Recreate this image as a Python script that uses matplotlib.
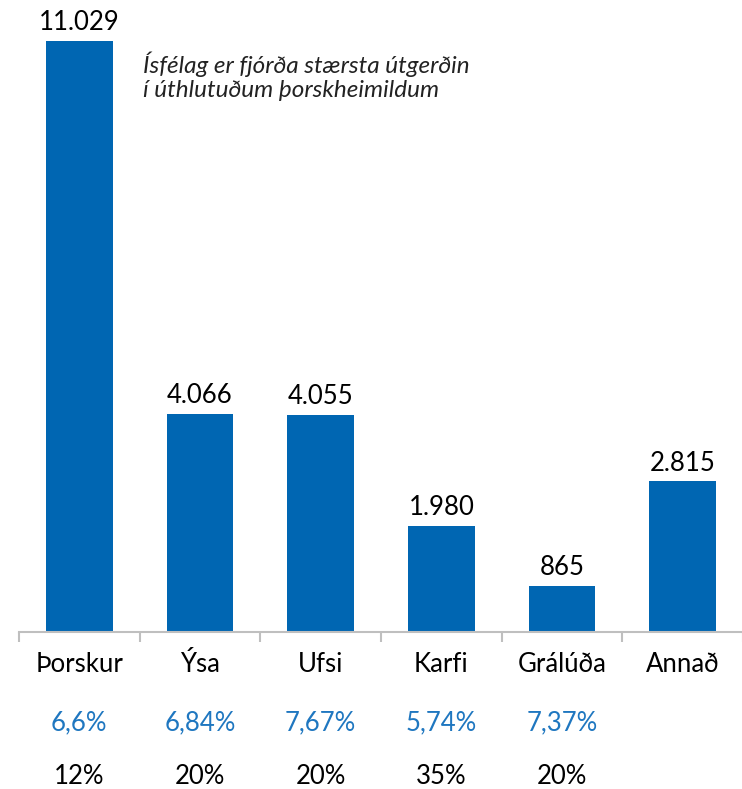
import matplotlib.pyplot as plt
import matplotlib.transforms as mtransforms

plt.rcParams['font.family'] = ['Lato', 'DejaVu Sans']

categories = ['Þorskur', 'Ýsa', 'Ufsi', 'Karfi', 'Grálúða', 'Annað']
values = [11029, 4066, 4055, 1980, 865, 2815]
value_labels = ['11.029', '4.066', '4.055', '1.980', '865', '2.815']
share_blue = ['6,6%', '6,84%', '7,67%', '5,74%', '7,37%', '']
share_black = ['12%', '20%', '20%', '35%', '20%', '']

bar_color = '#0066b2'
blue_text = '#1f77c0'
axis_gray = '#bfbfbf'

fig = plt.figure(figsize=(7.42, 7.89), dpi=100)
ax = fig.add_axes([19 / 742, (789 - 632) / 789, 724 / 742, 632 / 789])

x = list(range(len(categories)))
ax.bar(x, values, width=0.55, color=bar_color, zorder=2)
ax.set_xlim(-0.5, len(categories) - 0.5)
ax.set_ylim(0, 11790)

for xi, v, lab in zip(x, values, value_labels):
    ax.annotate(lab, (xi, v), xytext=(0, 4), textcoords='offset points',
                ha='center', va='bottom', fontsize=18.5, color='black')

for s in ['top', 'right', 'left']:
    ax.spines[s].set_visible(False)
ax.spines['bottom'].set_color(axis_gray)
ax.spines['bottom'].set_linewidth(1.5)
ax.set_yticks([])

ax.set_xticks(x)
ax.set_xticklabels([])
ax.tick_params(axis='x', which='major', length=0)
ax.set_xticks([i - 0.5 for i in range(len(categories) + 1)], minor=True)
ax.tick_params(axis='x', which='minor', length=7, width=1.5, color=axis_gray, direction='out')

trans = mtransforms.blended_transform_factory(ax.transData, ax.transAxes)
for xi, c, b, k in zip(x, categories, share_blue, share_black):
    ax.text(xi, -33 / 632, c, transform=trans, ha='center', va='center', fontsize=18.5, color='black')
    ax.text(xi, -91 / 632, b, transform=trans, ha='center', va='center', fontsize=18.5, color=blue_text)
    ax.text(xi, -145 / 632, k, transform=trans, ha='center', va='center', fontsize=18.5, color='black')

fig.text(143 / 742, 1 - 76 / 789, 'Ísfélag er fjórða stærsta útgerðin\ní úthlutuðum þorskheimildum',
         ha='left', va='center', fontsize=17.5, style='italic', color='#222222', linespacing=1.2)

fig.savefig('out.png', dpi=100)
